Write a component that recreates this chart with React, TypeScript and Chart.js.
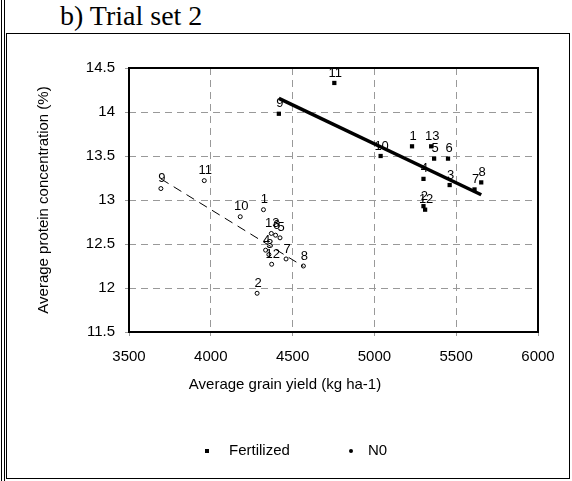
import React, { useEffect, useRef } from "react";
import { Chart, registerables } from "chart.js";

Chart.register(...registerables);

// ---- Data ----
const trialLabels = ["1", "2", "3", "4", "5", "6", "7", "8", "9", "10", "11", "12", "13"];

const fertYield = [5230, 5300, 5460, 5300, 5365, 5450, 5612, 5653, 4416, 5038, 4755, 5310, 5347];
const fertProtein = [13.61, 12.93, 13.17, 13.24, 13.47, 13.47, 13.12, 13.2, 13.98, 13.5, 14.33, 12.89, 13.61];

const n0Yield = [4322, 4283, 4355, 4335, 4423, 4396, 4460, 4566, 3695, 4180, 3960, 4372, 4370];
const n0Protein = [12.89, 11.94, 12.38, 12.43, 12.57, 12.6, 12.33, 12.25, 13.13, 12.81, 13.22, 12.27, 12.62];

const fertTrendYield = [4416, 5653];
const fertTrendProtein = [14.155, 13.06];
const n0TrendYield = [3695, 4566];
const n0TrendProtein = [13.24, 12.245];

const xTicks = [3500, 4000, 4500, 5000, 5500, 6000];
const yTicks = [11.5, 12, 12.5, 13, 13.5, 14, 14.5];

const seriesNames = ["Fertilized", "N0"];
const xTitle = "Average grain yield (kg ha-1)";
const yTitle = "Average protein concentration (%)";
const panelTitle = "b) Trial set 2";

const SANS = "'Liberation Sans', Arial, sans-serif";

const pts = (xs: number[], ys: number[]) => xs.map((x, i) => ({ x, y: ys[i] }));

const extrasPlugin = {
  id: "extras",
  afterDatasetsDraw(chart: any) {
    const ctx = chart.ctx;
    const a = chart.chartArea;
    ctx.save();
    // plot frame
    ctx.strokeStyle = "#000";
    ctx.lineWidth = 2;
    ctx.setLineDash([]);
    ctx.strokeRect(a.left, a.top, a.right - a.left, a.bottom - a.top);

    // point labels
    ctx.fillStyle = "#000";
    ctx.font = `13px ${SANS}`;
    ctx.textAlign = "center";
    ctx.textBaseline = "middle";
    chart.data.datasets.forEach((ds: any, di: number) => {
      if (!ds.pointLabels) return;
      const meta = chart.getDatasetMeta(di);
      meta.data.forEach((el: any, i: number) => {
        ctx.fillText(ds.pointLabels[i], el.x + 1, el.y - 10);
      });
    });

    // x axis title
    ctx.font = `15px ${SANS}`;
    ctx.fillText(xTitle, 285, 385);

    // legend
    const ly = 451;
    ctx.fillRect(205, ly - 2, 4, 4);
    ctx.textAlign = "left";
    ctx.fillText(seriesNames[0], 229, ly);
    ctx.beginPath();
    ctx.arc(351, ly, 2, 0, Math.PI * 2);
    ctx.fill();
    ctx.fillText(seriesNames[1], 368, ly);
    ctx.restore();
  },
};

export default function App() {
  const canvasRef = useRef<HTMLCanvasElement | null>(null);

  useEffect(() => {
    if (!canvasRef.current) return;
    const chart = new Chart(canvasRef.current, {
      type: "scatter",
      data: {
        datasets: [
          {
            label: "Fertilized trend",
            type: "line",
            data: pts(fertTrendYield, fertTrendProtein),
            borderColor: "#000",
            borderWidth: 3.5,
            pointRadius: 0,
            showLine: true,
            fill: false,
            order: 0,
          } as any,
          {
            label: "N0 trend",
            type: "line",
            data: pts(n0TrendYield, n0TrendProtein),
            borderColor: "#000",
            borderWidth: 1,
            borderDash: [9, 6],
            pointRadius: 0,
            showLine: true,
            fill: false,
            order: 0,
          } as any,
          {
            label: seriesNames[0],
            data: pts(fertYield, fertProtein),
            pointStyle: "rect",
            pointRadius: 3,
            backgroundColor: "#000",
            borderColor: "#000",
            borderWidth: 0,
            pointLabels: trialLabels,
            order: 1,
          } as any,
          {
            label: seriesNames[1],
            data: pts(n0Yield, n0Protein),
            pointStyle: "circle",
            pointRadius: 2,
            backgroundColor: "#fff",
            borderColor: "#000",
            borderWidth: 1,
            pointLabels: trialLabels,
            order: 1,
          } as any,
        ],
      },
      options: {
        responsive: false,
        animation: false,
        events: [],
        layout: { padding: { left: 31, top: 68, right: 34, bottom: 87 } },
        plugins: { legend: { display: false }, tooltip: { enabled: false } },
        scales: {
          x: {
            type: "linear",
            min: xTicks[0],
            max: xTicks[xTicks.length - 1],
            afterBuildTicks: (s: any) => {
              s.ticks = xTicks.map((v) => ({ value: v }));
            },
            afterFit: (s: any) => {
              s.height = 62;
            },
            ticks: {
              color: "#000",
              font: { family: SANS, size: 15 },
              padding: 12,
              maxRotation: 0,
              autoSkip: false,
              callback: (v: any) => String(v),
            },
            grid: {
              color: "#999",
              lineWidth: 1,
              tickLength: 4,
              tickColor: "#999",
              tickBorderDash: [],
            },
            border: { display: false, dash: [7, 5] },
          },
          y: {
            type: "linear",
            min: yTicks[0],
            max: yTicks[yTicks.length - 1],
            afterBuildTicks: (s: any) => {
              s.ticks = yTicks.map((v) => ({ value: v }));
            },
            afterFit: (s: any) => {
              s.width = 98;
            },
            ticks: {
              color: "#000",
              font: { family: SANS, size: 15 },
              padding: 10,
              autoSkip: false,
              callback: (v: any) => String(v),
            },
            grid: {
              color: "#999",
              lineWidth: 1,
              tickLength: 4,
              tickColor: "#999",
              tickBorderDash: [],
            },
            border: { display: false, dash: [7, 5] },
            title: {
              display: true,
              text: yTitle,
              color: "#000",
              font: { family: SANS, size: 15 },
              padding: { top: 4, bottom: 0 },
            },
          },
        },
      },
      plugins: [extrasPlugin],
    } as any);
    return () => chart.destroy();
  }, []);

  return (
    <div
      style={{
        position: "absolute",
        left: 0,
        top: 0,
        width: 572,
        height: 481,
        background: "#fff",
        overflow: "hidden",
      }}
    >
      <div style={{ position: "absolute", left: 1, top: 0, width: 1, height: 481, background: "#000" }} />
      <div style={{ position: "absolute", left: 4, top: 0, width: 1, height: 481, background: "#000" }} />
      <div
        style={{
          position: "absolute",
          left: 6,
          top: 33,
          width: 564,
          height: 446,
          border: "1px solid #000",
          boxSizing: "border-box",
        }}
      />
      <div
        style={{
          position: "absolute",
          left: 60,
          top: 2,
          fontFamily: "'Liberation Serif', 'Times New Roman', serif",
          fontSize: 28,
          lineHeight: "28px",
          color: "#000",
          whiteSpace: "nowrap",
        }}
      >
        {panelTitle}
      </div>
      <canvas
        ref={canvasRef}
        width={572}
        height={481}
        style={{ position: "absolute", left: 0, top: 0, width: 572, height: 481 }}
      />
    </div>
  );
}
